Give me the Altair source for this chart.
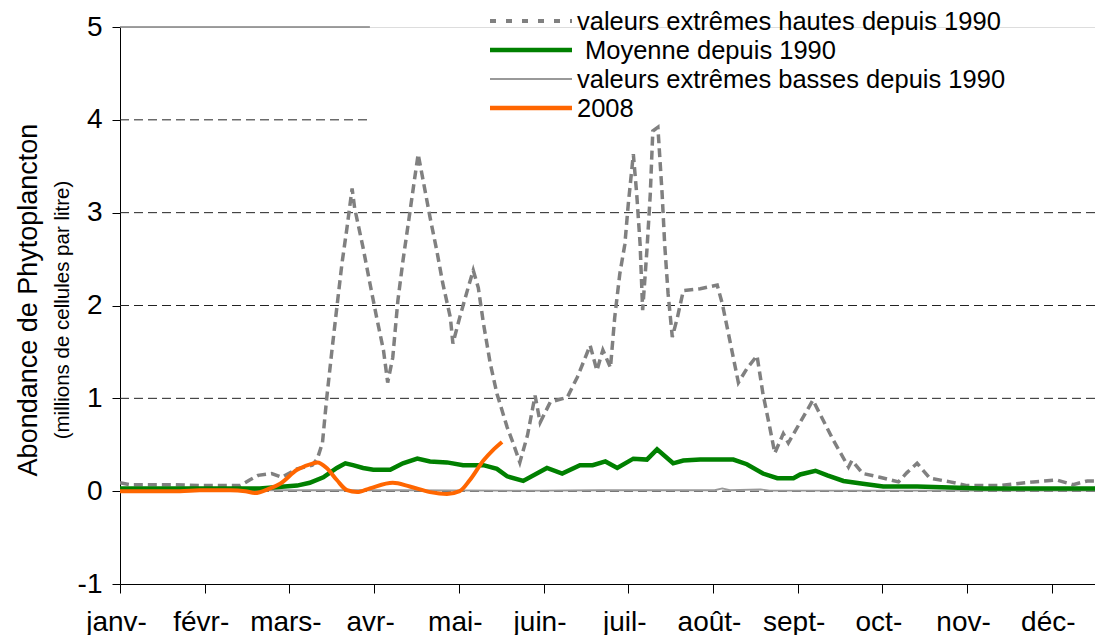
import altair as alt
import pandas as pd

FONT = "Liberation Sans"

# ---- tick labels ----
months = ["janv-", "févr-", "mars-", "avr-", "mai-", "juin-",
          "juil-", "août-", "sept-", "oct-", "nov-", "déc-"]
y_ticks = [-1, 0, 1, 2, 3, 4, 5]

# ---- series (x in months since 1 Jan, y in millions of cells per litre) ----
high_m = [0.00, 0.12, 0.65, 0.94, 1.42, 1.53, 1.63, 1.79, 1.91, 2.09, 2.27, 2.33,
          2.39, 2.44, 2.50, 2.56, 2.62, 2.68, 2.74, 2.77, 2.87, 2.95, 3.03, 3.11,
          3.16, 3.22, 3.28, 3.34, 3.42, 3.48, 3.52, 3.58, 3.66, 3.74, 3.81, 3.90,
          3.93, 4.01, 4.10, 4.17, 4.23, 4.29, 4.37, 4.45, 4.57, 4.64, 4.72, 4.81,
          4.90, 4.96, 5.08, 5.28, 5.40, 5.55, 5.63, 5.70, 5.79, 5.84, 5.90, 5.96,
          6.00, 6.06, 6.10, 6.14, 6.17, 6.22, 6.26, 6.29, 6.35, 6.40, 6.43, 6.47,
          6.52, 6.58, 6.65, 6.85, 7.05, 7.11, 7.20, 7.30, 7.40, 7.52, 7.59, 7.67,
          7.73, 7.83, 7.89, 8.18, 8.42, 8.60, 8.64, 8.77, 8.97, 9.19, 9.29, 9.41,
          9.56, 9.80, 10.00, 10.39, 10.78, 11.06, 11.25, 11.42, 11.62]
high_v = [0.09, 0.07, 0.07, 0.06, 0.06, 0.12, 0.17, 0.19, 0.15, 0.24, 0.28, 0.35,
          0.52, 1.00, 1.50, 1.98, 2.45, 2.84, 3.26, 3.05, 2.62, 2.24, 1.87, 1.52,
          1.17, 1.44, 2.05, 2.48, 2.99, 3.38, 3.63, 3.34, 2.95, 2.59, 2.24, 1.87,
          1.59, 1.87, 2.16, 2.38, 2.19, 1.81, 1.38, 1.05, 0.69, 0.52, 0.31, 0.60,
          1.03, 0.74, 0.96, 1.01, 1.23, 1.57, 1.30, 1.52, 1.33, 1.87, 2.34, 2.66,
          3.09, 3.63, 3.20, 2.66, 1.95, 2.59, 3.20, 3.88, 3.92, 3.20, 2.66, 2.13,
          1.66, 1.87, 2.16, 2.18, 2.22, 2.02, 1.62, 1.17, 1.32, 1.46, 1.05, 0.69,
          0.41, 0.62, 0.52, 0.98, 0.55, 0.26, 0.33, 0.19, 0.15, 0.10, 0.20, 0.30,
          0.14, 0.10, 0.06, 0.06, 0.10, 0.12, 0.07, 0.11, 0.11]

mean_m = [0.00, 1.30, 1.65, 2.09, 2.24, 2.40, 2.56, 2.66, 2.75, 2.87, 2.99, 3.19,
          3.34, 3.51, 3.66, 3.86, 4.05, 4.29, 4.45, 4.57, 4.76, 5.04, 5.22, 5.43,
          5.58, 5.73, 5.87, 6.06, 6.22, 6.34, 6.53, 6.65, 6.85, 7.24, 7.40, 7.59,
          7.76, 7.95, 8.03, 8.21, 8.35, 8.54, 8.77, 9.01, 9.41, 9.80, 10.19, 11.62]
mean_v = [0.03, 0.03, 0.03, 0.06, 0.09, 0.15, 0.25, 0.30, 0.28, 0.25, 0.23, 0.23,
          0.30, 0.35, 0.32, 0.31, 0.28, 0.28, 0.24, 0.16, 0.11, 0.25, 0.19, 0.28,
          0.28, 0.32, 0.25, 0.35, 0.34, 0.45, 0.30, 0.33, 0.34, 0.34, 0.29, 0.19,
          0.14, 0.14, 0.18, 0.22, 0.17, 0.11, 0.08, 0.05, 0.05, 0.04, 0.03, 0.03]

low_m = [0.00, 2.13, 3.31, 4.96, 5.67, 7.02, 7.11, 7.20, 7.56, 7.67, 9.21, 11.62]
low_v = [0.01, 0.01, 0.01, 0.005, 0.01, 0.01, 0.03, 0.01, 0.02, 0.005, 0.005, 0.005]

y2008_m = [0.00, 0.71, 0.94, 1.30, 1.48, 1.59, 1.77, 1.89, 2.09, 2.28, 2.33, 2.44,
           2.56, 2.68, 2.80, 2.95, 3.22, 3.42, 3.66, 3.86, 4.01, 4.13, 4.29, 4.40, 4.51]
y2008_v = [0.00, 0.00, 0.01, 0.01, 0.00, -0.02, 0.03, 0.08, 0.23, 0.30, 0.31, 0.25,
           0.12, 0.01, -0.01, 0.03, 0.09, 0.05, -0.01, -0.03, 0.00, 0.12, 0.33, 0.44, 0.53]

# gridlines: value and where each stops (the legend box hides the upper ones)
grid_vals = [0, 1, 2, 3, 4]
grid_end = [11.51, 11.51, 11.51, 11.51, 2.95]
border_vals = [5]
border_end = [2.95]

legend_labels = ["valeurs extrêmes hautes depuis 1990", " Moyenne depuis 1990",
                 "valeurs extrêmes basses depuis 1990", "2008"]

W, H = 975, 557
XMAX = 11.51

xs = alt.Scale(domain=[0, XMAX], nice=False, zero=False)
ys = alt.Scale(domain=[-1, 5], nice=False, zero=False)

label_expr = "[" + ",".join("'" + m + "'" for m in months) + "][datum.value]"

x_axis = alt.Axis(values=list(range(12)), labelExpr=label_expr, tickSize=9,
                  tickColor="#000000", domainColor="#000000", tickWidth=1, domainWidth=1,
                  labelFontSize=28, labelFont=FONT, labelColor="#000000",
                  labelPadding=15, labelOffset=-4, labelBaseline="top",
                  labelFlush=False, labelOverlap=False, title=None, grid=False)
y_axis = alt.Axis(values=y_ticks, labelExpr="'' + datum.value", tickSize=8,
                  tickColor="#000000", domainColor="#000000", tickWidth=1, domainWidth=1,
                  labelFontSize=28, labelFont=FONT, labelColor="#000000",
                  labelPadding=10, labelFlush=False, labelOverlap=False,
                  title=None, grid=False)


def df(m, v):
    return pd.DataFrame({"m": m, "v": v})


grid = alt.Chart(pd.DataFrame({"v": grid_vals, "m": [0] * len(grid_vals), "x1": grid_end})).mark_rule(
    color="#222222", strokeWidth=1, strokeDash=[9, 5]
).encode(
    x=alt.X("m:Q", scale=xs, axis=x_axis),
    x2="x1:Q",
    y=alt.Y("v:Q", scale=ys, axis=y_axis),
)

border = alt.Chart(pd.DataFrame({"v": border_vals, "m": [0], "x1": border_end})).mark_rule(
    color="#808080", strokeWidth=1.5
).encode(
    x=alt.X("m:Q", scale=xs, axis=x_axis),
    x2="x1:Q",
    y=alt.Y("v:Q", scale=ys, axis=y_axis),
)


def line(m, v, **kw):
    return alt.Chart(df(m, v)).mark_line(clip=True, **kw).encode(
        x=alt.X("m:Q", scale=xs, axis=x_axis),
        y=alt.Y("v:Q", scale=ys, axis=y_axis),
        order="m:Q",
    )


low = line(low_m, low_v, color="#999999", strokeWidth=1.8)
high = line(high_m, high_v, color="#808080", strokeWidth=3.5, strokeDash=[9, 5])
mean = line(mean_m, mean_v, color="#008000", strokeWidth=4.5)
y2008 = line(y2008_m, y2008_v, color="#FF6600", strokeWidth=4, interpolate="monotone")

# ---- legend (drawn by hand so the long line samples fit the rows) ----
leg_rows_y = [-6, 23, 52, 81]
leg_styles = [
    dict(color="#808080", strokeWidth=4, strokeDash=[6, 10]),
    dict(color="#008000", strokeWidth=4.5),
    dict(color="#999999", strokeWidth=2),
    dict(color="#FF6600", strokeWidth=4.5),
]
legend_layers = []
for lbl, yy, st in zip(legend_labels, leg_rows_y, leg_styles):
    legend_layers.append(
        alt.Chart(pd.DataFrame({"t": [lbl]})).mark_rule(**st).encode(
            x=alt.value(370), x2=alt.value(452), y=alt.value(yy)
        )
    )
    legend_layers.append(
        alt.Chart(pd.DataFrame({"t": [lbl.strip()]})).mark_text(
            align="left", baseline="middle", font=FONT, fontSize=25.5, color="#000000"
        ).encode(
            x=alt.value(457 + (8 if lbl.startswith(" ") else 0)), y=alt.value(yy + 1), text="t:N"
        )
    )

title_main = alt.Chart(pd.DataFrame({"t": ["Abondance de Phytoplancton"]})).mark_text(
    angle=270, align="center", baseline="middle", font=FONT, fontSize=27, color="#000000"
).encode(x=alt.value(-91), y=alt.value(273), text="t:N")

title_sub = alt.Chart(pd.DataFrame({"t": ["(millions de cellules par litre)"]})).mark_text(
    angle=270, align="center", baseline="middle", font=FONT, fontSize=20.5, color="#000000"
).encode(x=alt.value(-57), y=alt.value(283), text="t:N")

chart = alt.layer(
    grid, border, low, high, mean, y2008, *legend_layers, title_main, title_sub
).properties(
    width=W, height=H,
    padding={"left": 112, "top": 19, "right": 0, "bottom": 51},
    autosize=alt.AutoSizeParams(type="none"),
).configure_view(stroke=None).configure(background="white")

chart.save("out.html", embed_options={"renderer": "svg", "actions": False})
